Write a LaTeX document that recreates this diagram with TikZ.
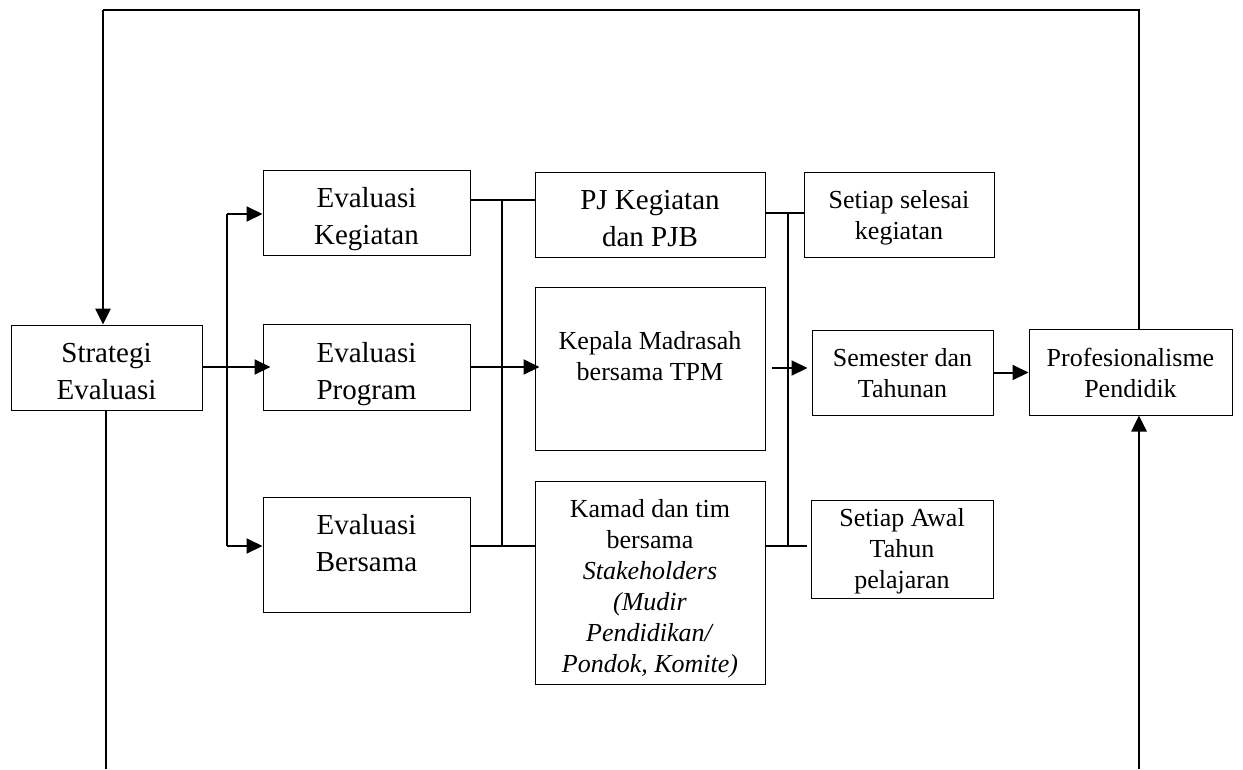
\documentclass[tikz,border=0pt]{standalone}
\usepackage{fontspec}
\setmainfont{Liberation Serif}
\usetikzlibrary{arrows.meta}
% text block of a fixed-size box; #3 > 0 moves the lines down, < 0 moves them up
\newcommand{\boxlines}[4]{\parbox[c][#2][c]{#1}{\vspace*{#3}\centering #4\par}}
\begin{document}
\begin{tikzpicture}[x=1pt,y=-1pt,
  box/.style={draw, line width=1pt, inner sep=0pt, align=center},
  bigtxt/.style={font=\fontsize{29}{37}\selectfont},
  smalltxt/.style={font=\fontsize{26}{31}\selectfont},
  wire/.style={line width=1.1pt},
  feed/.style={line width=2pt, -{Triangle[length=16pt,width=15pt]}},
]
\useasboundingbox (0,0) rectangle (1243,769);

% boxes
\node[box,bigtxt,minimum width=191pt,minimum height=85pt] (strat) at (106.5,367.5)
  {\boxlines{191pt}{85pt}{8pt}{Strategi\\Evaluasi}};
\node[box,bigtxt,minimum width=207pt,minimum height=85pt] (evk) at (366.5,212.5)
  {\boxlines{207pt}{85pt}{14pt}{Evaluasi\\Kegiatan}};
\node[box,bigtxt,minimum width=207pt,minimum height=86pt] (evp) at (366.5,367)
  {\boxlines{207pt}{86pt}{14pt}{Evaluasi\\Program}};
\node[box,bigtxt,minimum width=207pt,minimum height=115pt] (evb) at (366.5,554.5)
  {\boxlines{207pt}{115pt}{-22pt}{Evaluasi\\Bersama}};
\node[box,bigtxt,minimum width=230pt,minimum height=85pt] (pj) at (650,214.5)
  {\boxlines{230pt}{85pt}{8pt}{PJ Kegiatan\\dan PJB}};
\node[box,smalltxt,minimum width=230pt,minimum height=163pt] (kep) at (650,368.5)
  {\boxlines{230pt}{163pt}{-24pt}{Kepala Madrasah\\bersama TPM}};
\node[box,smalltxt,minimum width=230pt,minimum height=203pt] (kam) at (650,582.5)
  {\boxlines{230pt}{203pt}{12pt}{Kamad dan tim\\bersama\\\textit{Stakeholders}\\\textit{(Mudir}\\\textit{Pendidikan/}\\\textit{Pondok, Komite)}}};
\node[box,smalltxt,minimum width=190pt,minimum height=85pt] (ses) at (899,214.5)
  {\boxlines{190pt}{85pt}{6pt}{Setiap selesai\\kegiatan}};
\node[box,smalltxt,minimum width=181pt,minimum height=85pt] (sem) at (902.5,372.5)
  {\boxlines{181pt}{85pt}{2pt}{Semester dan\\Tahunan}};
\node[box,smalltxt,minimum width=182pt,minimum height=98pt] (awal) at (902,549)
  {\boxlines{182pt}{98pt}{4pt}{Setiap Awal\\Tahun\\pelajaran}};
\node[box,smalltxt,minimum width=203pt,minimum height=86pt] (prof) at (1130.5,372)
  {\boxlines{203pt}{86pt}{2pt}{Profesionalisme\\Pendidik}};

% outer loop
\coordinate (topL) at (103,10);
\coordinate (topR) at (1139,10);
\coordinate (botL) at (106,769);
\coordinate (botR) at (1139,769);
\draw[wire] (topR |- prof.north) -- (topR) -- (topL);
\draw[feed, line width=2.6pt] (topL) -- (topL |- strat.north);
\draw[wire] (botL |- strat.south) -- (botL);
\draw[feed, line width=2.6pt] (botR) -- (botR |- prof.south);

% fan-out to the three evaluations
\coordinate (fanT) at (227,214);
\coordinate (fanB) at (227,546);
\draw[wire] (fanT) -- (fanB);
\draw[feed] (fanT) -- (fanT -| evk.west);
\draw[feed] (fanB) -- (fanB -| evb.west);
\draw[feed, shorten >=-8pt] (strat.east |- evp.west) -- (evp.west);

% left junction
\coordinate (jLT) at (502,200);
\coordinate (jLB) at (502,546);
\draw[wire] (jLT -| evk.east) -- (jLT -| pj.west);
\draw[wire] (jLT) -- (jLB);
\draw[wire] (jLB -| evb.east) -- (jLB -| kam.west);
\draw[feed, shorten >=-5pt] (evp.east) -- (evp.east -| kep.west);

% right junction
\coordinate (jRT) at (788,213);
\coordinate (jRB) at (788,546);
\coordinate (jRBend) at (807,546);
\coordinate (midS) at (772,368);
\draw[wire] (jRT -| pj.east) -- (jRT -| ses.west);
\draw[wire] (jRT) -- (jRB);
\draw[wire] (jRB -| kam.east) -- (jRBend);
\draw[feed, shorten >=4pt] (midS) -- (midS -| sem.west);
\draw[feed] (sem.east) -- (sem.east -| prof.west);
\end{tikzpicture}
\end{document}
